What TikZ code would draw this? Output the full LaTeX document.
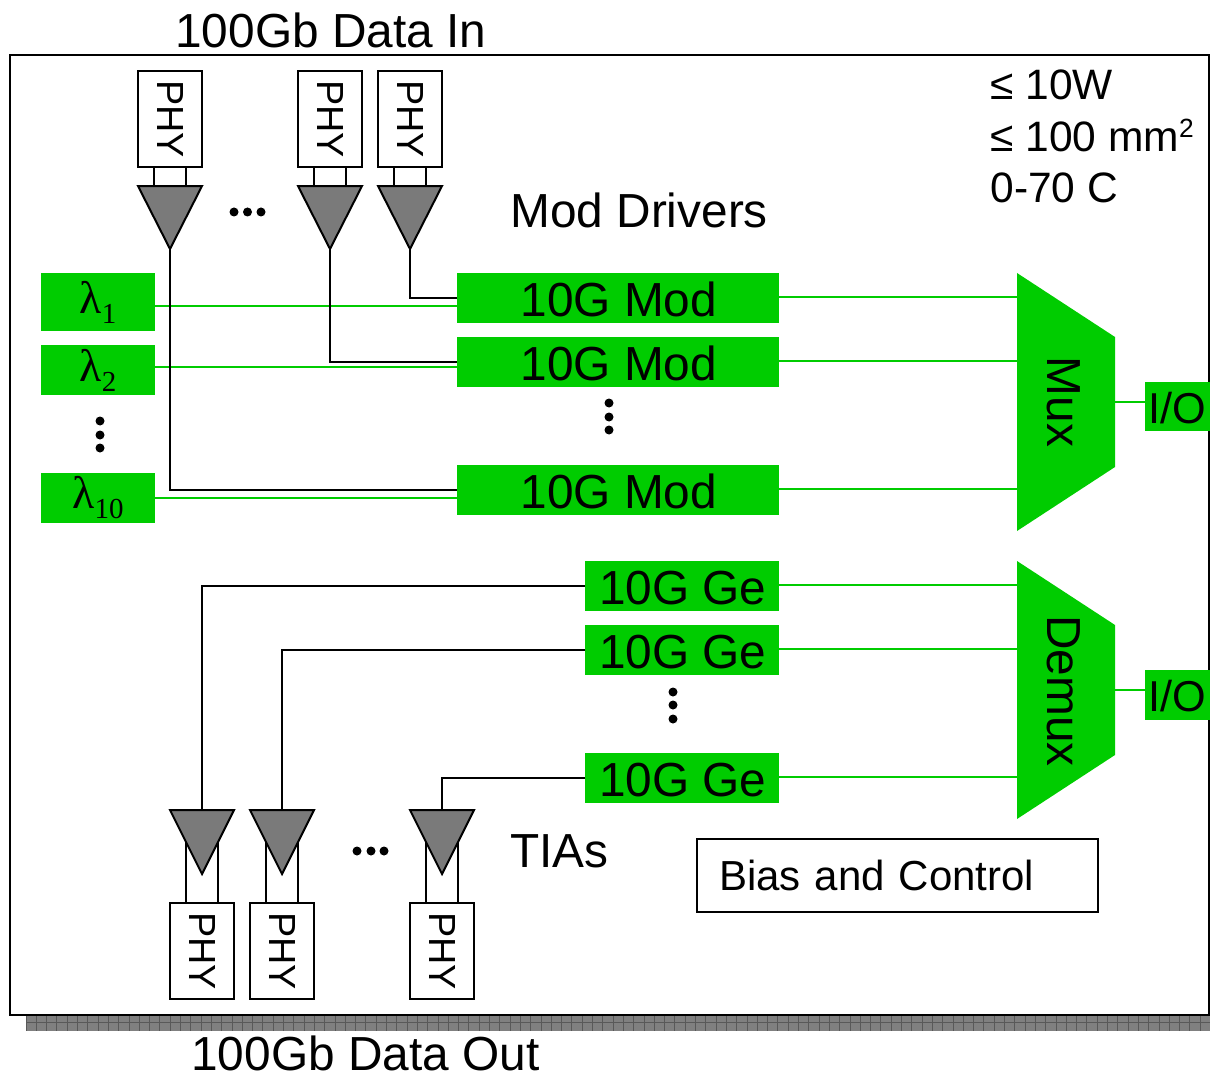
\documentclass[tikz,border=0pt]{standalone}
\usepackage{graphicx}
\usepackage{fontspec}
\setmainfont{Liberation Sans}
\newfontfamily\lamfont{Liberation Serif}
\usetikzlibrary{shapes.geometric}
\definecolor{chipgreen}{HTML}{00CC00}
\definecolor{ampgray}{HTML}{7A7A7A}
\newcommand{\bigtext}{\fontsize{27.2}{27.2}\selectfont}
\newcommand{\midtext}{\fontsize{24.2}{24.2}\selectfont}
\newcommand{\lamlabel}[1]{{\lamfont\fontsize{26}{26}\selectfont λ\raisebox{-5.7pt}{\fontsize{16.5}{16.5}\selectfont #1}}}
\tikzset{
	wire/.style={line width=1.14pt,black},
	greenwire/.style={line width=1.14pt,chipgreen},
	greenbox/.style={fill=chipgreen,inner sep=0pt,outer sep=0pt},
	modbox/.style={greenbox,minimum width=6.44cm,minimum height=1cm,text height=21.4pt,text depth=0pt,font=\bigtext,execute at begin node=\hspace*{1pt}},
	gebox/.style={greenbox,minimum width=3.88cm,minimum height=1cm,text height=21.4pt,text depth=0pt,font=\bigtext,execute at begin node=\hspace*{1pt}},
	lambox/.style={greenbox,minimum width=2.28cm,minimum height=1cm},
	iobox/.style={greenbox,minimum width=1.3cm,minimum height=1cm,text height=19.2pt,text depth=0pt,font=\fontsize{24.6}{24.6}\selectfont},
	phybox/.style={draw,line width=1.14pt,fill=white,inner sep=0pt,outer sep=0pt,minimum width=1.28cm,minimum height=1.92cm,font=\fontsize{21.5}{21.5}\selectfont},
	ampbox/.style={draw,line width=1.14pt,fill=ampgray,isosceles triangle,isosceles triangle stretches,shape border rotate=-90,inner sep=0pt,outer sep=0pt,minimum width=1.28cm,minimum height=1.26cm},
	title/.style={anchor=base west,inner sep=0pt,font=\bigtext},
	spec/.style={anchor=base west,inner sep=0pt,font=\midtext},
}
\begin{document}
\begin{tikzpicture}[x=0.02cm,y=-0.02cm]
	\useasboundingbox (0,0) rectangle (1210,1074);
	% ground bar under the chip
	\fill[gray] (26,1016) rectangle (1210,1031);
	\foreach \i in {0,...,114}
		\draw[line width=0.5pt,black!65] ({26+10.3*\i},1016) -- ++(0,15);
	\draw[line width=0.5pt,black!65] (26,1022.5) -- (1210,1022.5);
	% chip outline
	\draw[wire] (10,55) rectangle (1209,1015);
	% titles
	\node[title] (datain) at (175,48) {100Gb Data In};
	\node[title] (dataout) at (191,1070) {100Gb Data Out};
	\node[title] (driverslabel) at (510,228) {Mod Drivers};
	\node[title] (tialabel) at (510,867) {TIAs};
	% limits
	\node[spec] (spec1) at (990,100) {≤ 10W};
	\node[spec] (spec2) at (990,152) {≤ 100 mm\raisebox{8pt}{\fontsize{15}{15}\selectfont 2}};
	\node[spec] (spec3) at (990,203) {0-70 C};
	% input PHYs and amplifiers
	\node[phybox] (phy1) at (170,119) {\rotatebox{-90}{PHY}};
	\node[phybox] (phy2) at (330,119) {\rotatebox{-90}{PHY}};
	\node[phybox] (phy3) at (410,119) {\rotatebox{-90}{PHY}};
	\node[ampbox,anchor=apex] (amp1) at (170,249) {};
	\node[ampbox,anchor=apex] (amp2) at (330,249) {};
	\node[ampbox,anchor=apex] (amp3) at (410,249) {};
	\foreach \n in {1,2,3} {
		\draw[wire] ([xshift=-0.32cm]phy\n.south) -- ([xshift=-0.32cm]amp\n.north);
		\draw[wire] ([xshift=0.32cm]phy\n.south) -- ([xshift=0.32cm]amp\n.north);
	}
	% lasers
	\node[lambox,minimum height=1.16cm] (lam1) at (98,302) {\lamlabel{1}};
	\node[lambox] (lam2) at (98,370) {\lamlabel{2}};
	\node[lambox] (lam10) at (98,498) {\lamlabel{10}};
	% modulators
	\node[modbox] (mod1) at (618,298) {10G Mod};
	\node[modbox] (mod2) at (618,362) {10G Mod};
	\node[modbox] (mod10) at (618,490) {10G Mod};
	% receivers
	\node[gebox] (ge1) at (682,586) {10G Ge};
	\node[gebox] (ge2) at (682,650) {10G Ge};
	\node[gebox] (ge10) at (682,778) {10G Ge};
	% mux and demux
	\fill[chipgreen] (1017,273) -- (1115,337) -- (1115,467) -- (1017,531) -- cycle;
	\fill[chipgreen] (1017,561) -- (1115,625) -- (1115,755) -- (1017,819) -- cycle;
	\node[inner sep=0pt,font=\bigtext] (muxlabel) at (1064,402) {\rotatebox{-90}{Mux}};
	\node[inner sep=0pt,font=\bigtext] (demuxlabel) at (1064,691) {\rotatebox{-90}{Demux}};
	\coordinate (muxw) at (1017,402);
	\coordinate (muxe) at (1115,402);
	\coordinate (demuxw) at (1017,690);
	\coordinate (demuxe) at (1115,690);
	\node[iobox] (io1) at (1177.5,406.5) {I/O};
	\node[iobox] (io2) at (1177.5,695) {I/O};
	% green waveguides
	\draw[greenwire] ([yshift=-2pt]lam1.east) -- ([yshift=-2pt]lam1.east -| mod1.west);
	\draw[greenwire] ([yshift=1.7pt]lam2.east) -- ([yshift=1.7pt]lam2.east -| mod2.west);
	\draw[greenwire] (lam10.east) -- (lam10.east -| mod10.west);
	\foreach \n in {1,2,10} {
		\draw[greenwire] ([yshift=0.5pt]mod\n.east) -- ([yshift=0.5pt]mod\n.east -| muxw);
		\draw[greenwire] ([yshift=0.5pt]ge\n.east) -- ([yshift=0.5pt]ge\n.east -| demuxw);
	}
	\draw[greenwire] (muxe) -- (muxe -| io1.west);
	\draw[greenwire] (demuxe) -- (demuxe -| io2.west);
	% drive lines
	\draw[wire] (amp1.apex) |- (mod10.west);
	\draw[wire] (amp2.apex) |- (mod2.west);
	\draw[wire] (amp3.apex) |- (mod1.west);
	% output amplifiers and PHYs
	\node[phybox] (phy4) at (202,951) {\rotatebox{-90}{PHY}};
	\node[phybox] (phy5) at (282,951) {\rotatebox{-90}{PHY}};
	\node[phybox] (phy6) at (442,951) {\rotatebox{-90}{PHY}};
	\node[ampbox,minimum height=1.28cm,anchor=apex] (tia1) at (202,874) {};
	\node[ampbox,minimum height=1.28cm,anchor=apex] (tia2) at (282,874) {};
	\node[ampbox,minimum height=1.28cm,anchor=apex] (tia3) at (442,874) {};
	\draw[wire] (tia1.left side) -- (tia1.left side |- phy4.north);
	\draw[wire] (tia1.right side) -- (tia1.right side |- phy4.north);
	\draw[wire] (tia2.left side) -- (tia2.left side |- phy5.north);
	\draw[wire] (tia2.right side) -- (tia2.right side |- phy5.north);
	\draw[wire] (tia3.left side) -- (tia3.left side |- phy6.north);
	\draw[wire] (tia3.right side) -- (tia3.right side |- phy6.north);
	\draw[wire] (ge1.west) -| (tia1.north);
	\draw[wire] (ge2.west) -| (tia2.north);
	\draw[wire] (ge10.west) -| (tia3.north);
	% bias block
	\node[draw,line width=1.14pt,inner sep=0pt,inner xsep=0.44cm,text width=7.14cm,minimum height=1.46cm,align=left,font=\fontsize{23.9}{23.9}\selectfont] (bias) at (897.5,875.5) {Bias and Control};
	% dots
	\foreach \x in {234,247.5,261}
		\fill (\x,212) circle (4.5);
	\foreach \x in {357,371,384}
		\fill (\x,851) circle (4.5);
	\foreach \y in {421,435,448}
		\fill (100,\y) circle (4.5);
	\foreach \y in {403,417,430}
		\fill (609,\y) circle (4.5);
	\foreach \y in {692,705,719}
		\fill (673,\y) circle (4.5);
\end{tikzpicture}
\end{document}
